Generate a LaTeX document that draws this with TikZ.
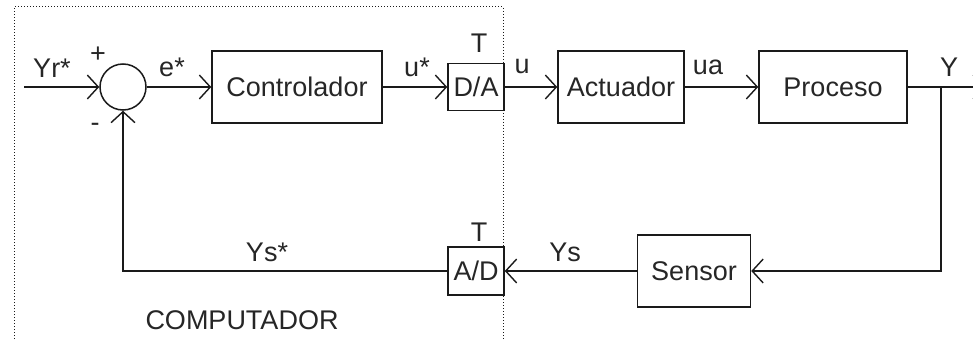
\documentclass[tikz,border=0pt]{standalone}
\usepackage{fontspec}
\setmainfont{Liberation Sans}
\usepackage{tikz}
\usetikzlibrary{arrows.meta, positioning, calc}
\definecolor{inkblack}{HTML}{1A1A1A}
\definecolor{labelgray}{HTML}{262626}

\begin{document}
\begin{tikzpicture}[x=1pt, y=-1pt,
    line width=1.5pt, draw=inkblack,
    >={Straight Barb[length=11pt, width=24pt, line width=1.4pt]},
    every node/.style={font=\fontsize{27}{30}\selectfont, text=labelgray},
    blockbox/.style={draw=inkblack, line width=1.5pt, minimum height=72pt, inner sep=0pt},
    convbox/.style={draw=inkblack, line width=1.5pt, minimum width=56pt, minimum height=47pt, inner sep=0pt},
    sumnode/.style={draw=inkblack, line width=1.5pt, circle, minimum size=46pt, inner sep=0pt}]

    % =================================================================
    % LAYER 0: THE FRAME
    % =================================================================
    \useasboundingbox (0,0) rectangle (973,339);
    \clip (0,0) rectangle (973,339);

    % =================================================================
    % LAYER 1: THE BLOCKS
    % =================================================================
    \node[sumnode] (sum) at (123,87) {};
    \node[blockbox, minimum width=170pt] (ctrl) at (297,87) {Controlador};
    \node[convbox] (da) at (476,87) {D/A};
    \node[blockbox, minimum width=126pt] (act) at (621,87) {Actuador};
    \node[blockbox, minimum width=148pt] (proc) at (833,87) {Proceso};
    \node[blockbox, minimum width=113pt] (sensor) at (694,271) {Sensor};
    \node[convbox, minimum height=48pt] (ad) at (476,271) {A/D};

    \coordinate (in) at (24,87);
    \coordinate (out) at (985,87);
    \coordinate (branch) at (941,87);

    % =================================================================
    % LAYER 2: THE SIGNAL PATHS
    % =================================================================
    \draw[->] (in) -- (sum);
    \draw[->] (sum) -- (ctrl);
    \draw[->] (ctrl) -- (da);
    \draw[->] (da) -- (act);
    \draw[->] (act) -- (proc);
    \draw[->] (proc) -- (out);
    \draw[->] (branch) |- (sensor);
    \draw[->] (sensor) -- (ad);
    \draw[->] (ad) -| (sum);

    % =================================================================
    % LAYER 3: THE LABELS
    % =================================================================
    \node (lblyr) at (52,68) {Yr*};
    \node (lblplus) at (98,55) {+};
    \node (lblminus) at (95,127) {-};
    \node (lble) at (172,67) {e*};
    \node (lblus) at (417,67) {u*};
    \node (lblt1) at (479,43) {T};
    \node (lblu) at (522,67) {u};
    \node (lblua) at (708,67) {ua};
    \node (lbly) at (949,67) {Y};
    \node (lblys) at (565,252) {Ys};
    \node (lblyss) at (267,252) {Ys*};
    \node (lblt2) at (479,232) {T};
    \node (lblpc) at (242,320) {COMPUTADOR};

    % =================================================================
    % LAYER 4: THE COMPUTER BOUNDARY
    % =================================================================
    \draw[inkblack, line width=1pt, dotted] (14,345) -- (14,7) -- (503,7) -- (503,345);

\end{tikzpicture}
\end{document}
